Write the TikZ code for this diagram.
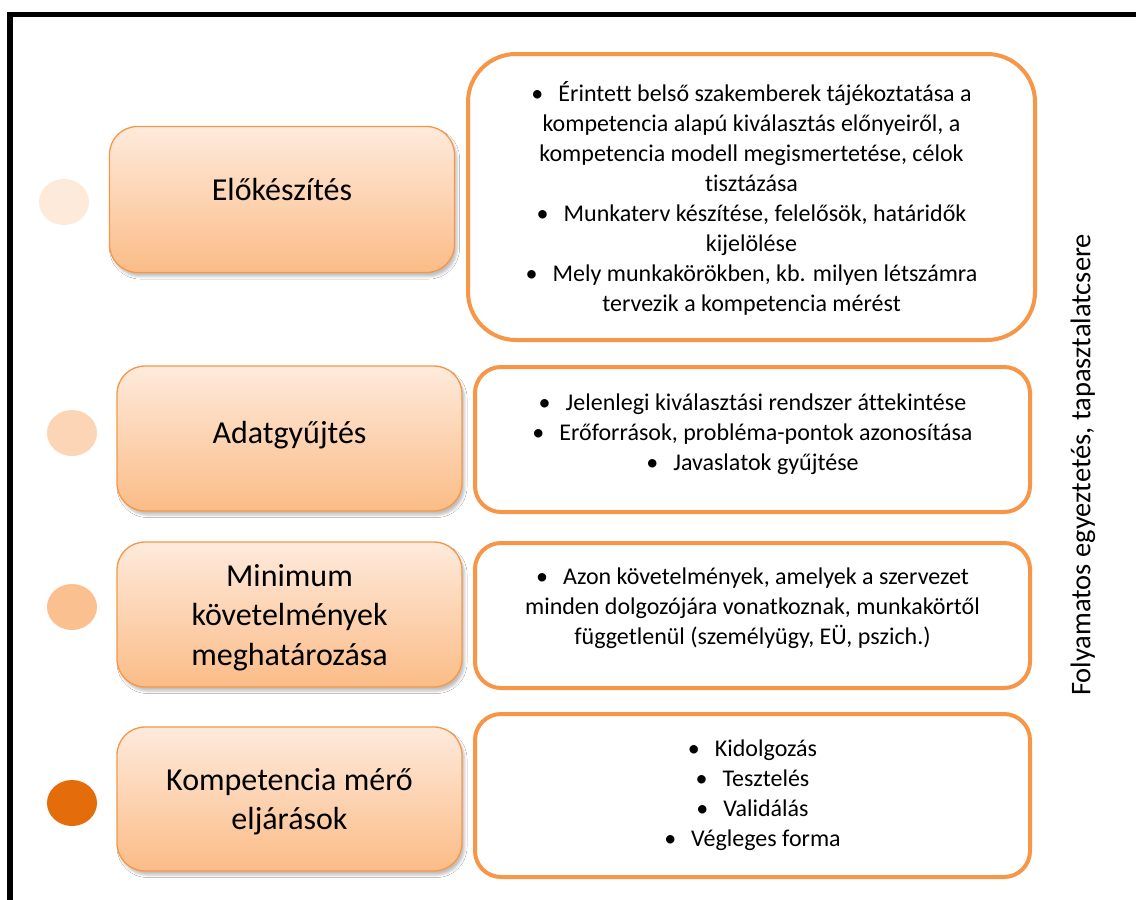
\documentclass[tikz,border=0pt]{standalone}
\usepackage{fontspec}
\setmainfont{Carlito}[Ligatures=NoCommon]
\usetikzlibrary{shadows.blur,shapes.geometric}
\definecolor{obord}{HTML}{F79646}
\definecolor{ltop}{HTML}{FEEADC}
\definecolor{lbot}{HTML}{FBBC87}
\definecolor{cone}{HTML}{FDEADA}
\definecolor{ctwo}{HTML}{FBD5B5}
\definecolor{cthree}{HTML}{FAC08F}
\definecolor{cfour}{HTML}{E46C0A}
\newcommand{\bul}{\textbullet\hspace{15pt}}
\begin{document}
\begin{tikzpicture}[x=1pt,y=-1pt,
  lbox/.style={draw=obord, line width=1.3pt, rounded corners=28pt,
    top color=ltop, bottom color=lbot, inner sep=0pt, align=center,
    minimum width=345pt, minimum height=145pt,
    font=\fontsize{32}{39.5}\selectfont,
    blur shadow={shadow xshift=2.5pt, shadow yshift=-4pt, shadow blur radius=2.5pt, shadow opacity=25}},
  rbox/.style={draw=obord, line width=4pt, rounded corners=26pt, fill=white,
    inner sep=0pt, align=center, minimum width=555pt, minimum height=145pt,
    font=\fontsize{24}{30}\selectfont},
  dot/.style={ellipse, draw=none, minimum width=50pt, minimum height=46pt, inner sep=0pt}
]
\useasboundingbox (0,0) rectangle (1136,900);
\fill[white] (0,0) rectangle (1136,900);
\draw[line width=5.5pt, line join=miter] (1136,14.5) -- (10,14.5) -- (10,900);

% circles
\node[dot, fill=cone] (c1) at (64,202) {};
\node[dot, fill=ctwo] (c2) at (72,433) {};
\node[dot, fill=cthree] (c3) at (72,607) {};
\node[dot, fill=cfour] (c4) at (72,803) {};

% left boxes
\node[lbox, minimum width=345pt, minimum height=146pt, text depth=20pt] (b1) at (282,199.5) {Előkészítés};
\node[lbox, text depth=12pt] (b2) at (289.5,438.5) {Adatgyűjtés};
\node[lbox, text depth=0pt] (b3) at (289.5,614.5) {Minimum\\követelmények\\meghatározása};
\node[lbox, minimum height=144pt, text depth=0pt] (b4) at (289.5,799) {Kompetencia mérő\\eljárások};

% right boxes
\node[rbox, minimum width=567pt, minimum height=286pt, rounded corners=48pt, text depth=2pt] (r1) at (751.5,197) {%
\bul Érintett belső szakemberek tájékoztatása a\\
kompetencia alapú kiválasztás előnyeiről, a\\
kompetencia modell megismertetése, célok\\
tisztázása\\
\bul Munkaterv készítése, felelősök, határidők\\
kijelölése\\
\bul Mely munkakörökben, kb. milyen létszámra\\
tervezik a kompetencia mérést};
\node[rbox, text depth=14pt] (r2) at (752.5,439.5) {%
\bul Jelenlegi kiválasztási rendszer áttekintése\\
\bul Erőforrások, probléma-pontok azonosítása\\
\bul Javaslatok gyűjtése};
\node[rbox, text depth=19pt] (r3) at (752.5,615.5) {%
\bul Azon követelmények, amelyek a szervezet\\
minden dolgozójára vonatkoznak, munkakörtől\\
függetlenül (személyügy, EÜ, pszich.)};
\node[rbox, minimum height=163pt] (r4) at (752.5,795.5) {%
\bul Kidolgozás\\
\bul Tesztelés\\
\bul Validálás\\
\bul Végleges forma};

% side text
\node[rotate=90, font=\fontsize{28.5}{30}\selectfont, inner sep=0pt] (side) at (1083,465) {Folyamatos egyeztetés, tapasztalatcsere};
\end{tikzpicture}
\end{document}
